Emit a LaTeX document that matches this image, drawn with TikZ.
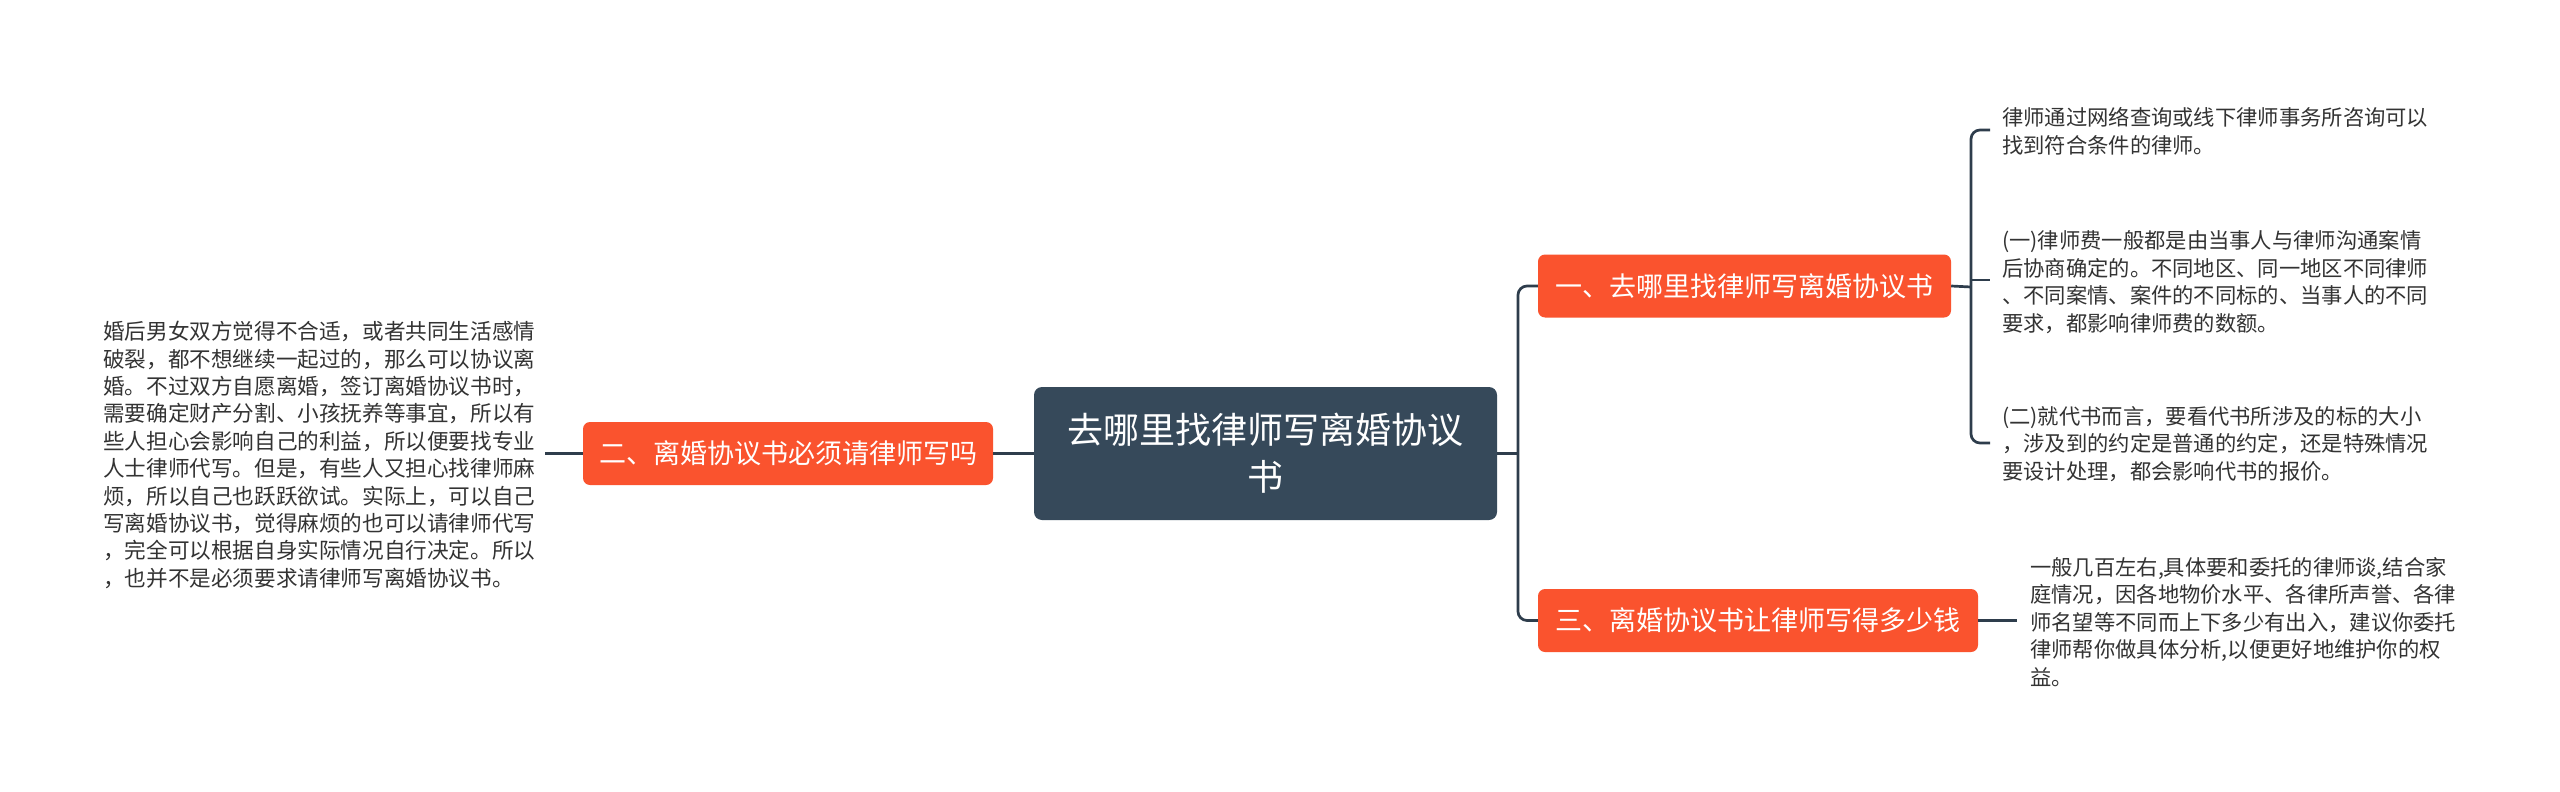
\documentclass[tikz,border=0pt]{standalone}
\usepackage{fontspec}
\setmainfont{Noto Sans CJK SC}
\definecolor{topicred}{HTML}{FA532E}
\definecolor{maindark}{HTML}{36495A}
\definecolor{linedark}{HTML}{2E3D4C}
\definecolor{leaftext}{HTML}{333333}
\begin{document}
\begin{tikzpicture}[x=1pt,y=-1pt,
  mainbox/.style={fill=maindark,rounded corners=8pt,text=white,align=center,
    minimum width=463pt,minimum height=133pt,inner sep=0pt,
    font=\fontsize{36}{47}\selectfont},
  topicbox/.style={fill=topicred,rounded corners=7pt,text=white,
    minimum height=63pt,inner sep=0pt,font=\fontsize{27}{32}\selectfont},
  leaftxt/.style={text=leaftext,align=left,inner sep=0pt,anchor=west,
    font=\fontsize{21.3}{27.6}\selectfont},
  conn/.style={draw=linedark,line width=2.7pt,rounded corners=9pt},
]
\useasboundingbox[fill=white] (0,0) rectangle (2560,792);

% main node
\node[mainbox] (main) at (1265.5,453.5) {去哪里找律师写离婚协议\\书};

% topics
\node[topicbox,minimum width=410pt] (n2) at (788,453.5) {二、离婚协议书必须请律师写吗};
\node[topicbox,minimum width=413pt] (n1) at (1744.5,286) {一、去哪里找律师写离婚协议书};
\node[topicbox,minimum width=440pt] (n3) at (1758,620.5) {三、离婚协议书让律师写得多少钱};

% leaves
\node[leaftxt,font=\fontsize{21.6}{27.4}\selectfont] (lt) at (103,455) {婚后男女双方觉得不合适，或者共同生活感情\\
破裂，都不想继续一起过的，那么可以协议离\\
婚。不过双方自愿离婚，签订离婚协议书时，\\
需要确定财产分割、小孩抚养等事宜，所以有\\
些人担心会影响自己的利益，所以便要找专业\\
人士律师代写。但是，有些人又担心找律师麻\\
烦，所以自己也跃跃欲试。实际上，可以自己\\
写离婚协议书，觉得麻烦的也可以请律师代写\\
，完全可以根据自身实际情况自行决定。所以\\
，也并不是必须要求请律师写离婚协议书。};

\node[leaftxt] (t1) at (2002,131) {律师通过网络查询或线下律师事务所咨询可以\\
找到符合条件的律师。};
\node[leaftxt] (t2) at (2002,282) {(一)律师费一般都是由当事人与律师沟通案情\\
后协商确定的。不同地区、同一地区不同律师\\
、不同案情、案件的不同标的、当事人的不同\\
要求，都影响律师费的数额。};
\node[leaftxt] (t3) at (2002,444) {(二)就代书而言，要看代书所涉及的标的大小\\
，涉及到的约定是普通的约定，还是特殊情况\\
要设计处理，都会影响代书的报价。};
\node[leaftxt] (t4) at (2030,622) {一般几百左右,具体要和委托的律师谈,结合家\\
庭情况，因各地物价水平、各律所声誉、各律\\
师名望等不同而上下多少有出入，建议你委托\\
律师帮你做具体分析,以便更好地维护你的权\\
益。};

% junction coordinates
\coordinate (lend) at (545,453.5);
\coordinate (j1) at (1518,453.5);
\coordinate (j2) at (1971,287);
\coordinate (c1) at (1990,130);
\coordinate (c2) at (1990,280);
\coordinate (c3) at (1990,443);
\coordinate (c4) at (2017,620.5);

% connectors
\draw[conn] (main.west) -- (n2.east);
\draw[conn] (n2.west) -- (lend);
\draw[conn] (main.east) -- (j1);
\draw[conn] (n1.west) -| (j1) |- (n3.west);
\draw[conn] (n1.east) -- (j2);
\draw[conn] (c1) -| (j2) |- (c3);
\draw[conn] (j2 |- c2) -- (c2);
\draw[conn] (n3.east) -- (c4);
\end{tikzpicture}
\end{document}
